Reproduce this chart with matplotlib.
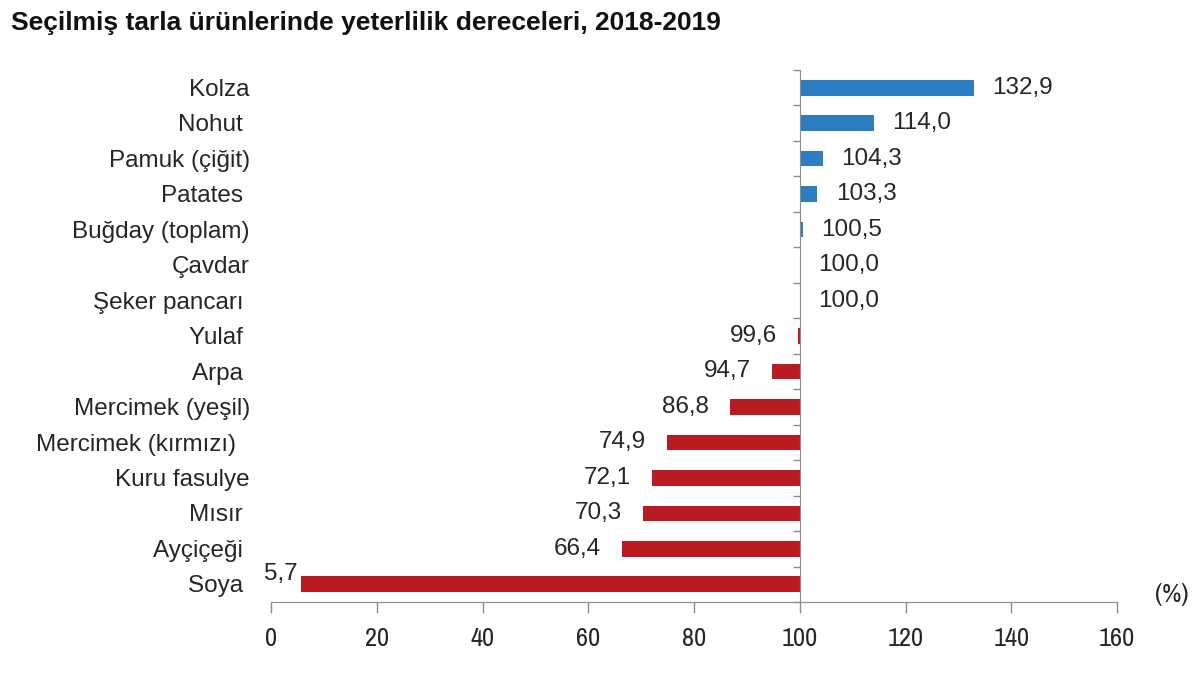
import matplotlib.pyplot as plt
from matplotlib import font_manager
from matplotlib.font_manager import FontProperties
from matplotlib.transforms import blended_transform_factory

urunler = ["Kolza", "Nohut ", "Pamuk (çiğit)", "Patates ", "Buğday (toplam)", "Çavdar",
           "Şeker pancarı ", "Yulaf ", "Arpa ", "Mercimek (yeşil)", "Mercimek (kırmızı)  ",
           "Kuru fasulye", "Mısır ", "Ayçiçeği ", "Soya "]
yeterlilik = [132.9, 114.0, 104.3, 103.3, 100.5, 100.0, 100.0, 99.6, 94.7, 86.8, 74.9,
              72.1, 70.3, 66.4, 5.7]
x_ticks = [0, 20, 40, 60, 80, 100, 120, 140, 160]

mavi = "#2c7dc2"
kirmizi = "#b81c22"
gri = "#8c8c8c"

plt.rcParams["font.family"] = ["Liberation Sans", "DejaVu Sans"]

# dar (narrow) bir yazı tipi bul, yoksa normal Liberation Sans
dar_dosya = None
for f in font_manager.fontManager.ttflist:
    ad = f.fname.lower()
    if "narrow" in ad and "bold" not in ad and "italic" not in ad:
        dar_dosya = f.fname
        break
if dar_dosya is None:
    for f in font_manager.fontManager.ttflist:
        ad = f.fname.lower()
        if "condensed" in ad and "sans" in ad and "bold" not in ad and "oblique" not in ad:
            dar_dosya = f.fname
            break

if dar_dosya:
    tick_font = FontProperties(fname=dar_dosya, size=19)
else:
    tick_font = FontProperties(family="Liberation Sans", size=15)

fig = plt.figure(figsize=(12, 6.86), dpi=100)
ax = fig.add_axes([0.2258, 0.1224, 0.931 - 0.2258, 0.898 - 0.1224])

for i, v in enumerate(yeterlilik):
    renk = mavi if v >= 100 else kirmizi
    ax.barh(i, v - 100, left=100, height=0.44, color=renk, edgecolor="none")
    etiket = f"{v:.1f}".replace(".", ",")
    if v >= 100:
        ax.text(v + 3.5, i, etiket, ha="left", va="center", fontsize=17.5, color="#262626")
    elif v < 20:
        # çok kısa değerde etiket çubuğun sol ucunun biraz üstünde
        ax.text(v - 0.7, i - 0.3, etiket, ha="right", va="center", fontsize=17.5,
                color="#262626")
    else:
        ax.text(v - 4, i, etiket, ha="right", va="center", fontsize=17.5, color="#262626")

tr = blended_transform_factory(ax.transAxes, ax.transData)
for i, ad in enumerate(urunler):
    ax.text(-0.025, i + 0.06, ad, transform=tr, ha="right", va="center", fontsize=17.5,
            color="#262626")

ax.set_xlim(0, 160)
ax.set_ylim(14.5, -0.5)
ax.set_xticks(x_ticks)
ax.set_xticklabels([str(t) for t in x_ticks], fontproperties=tick_font, color="#262626")
ax.tick_params(axis="x", length=8, width=1, color=gri, pad=10)

ax.spines["top"].set_visible(False)
ax.spines["right"].set_visible(False)
ax.spines["bottom"].set_color(gri)
ax.spines["left"].set_position(("data", 100))
ax.spines["left"].set_color(gri)
ax.set_yticks([k - 0.5 for k in range(len(urunler) + 1)])
ax.set_yticklabels([])
ax.tick_params(axis="y", length=5, width=1, color=gri)

ax.text(1.045, 14.3, "(%)", transform=tr, ha="left", va="center",
        fontproperties=tick_font.copy(), color="#262626")

fig.text(0.009, 0.967, "Seçilmiş tarla ürünlerinde yeterlilik dereceleri, 2018-2019",
         ha="left", va="center", fontsize=19, fontweight="bold", color="#111111")

fig.savefig("out.png", dpi=100, facecolor="white")
